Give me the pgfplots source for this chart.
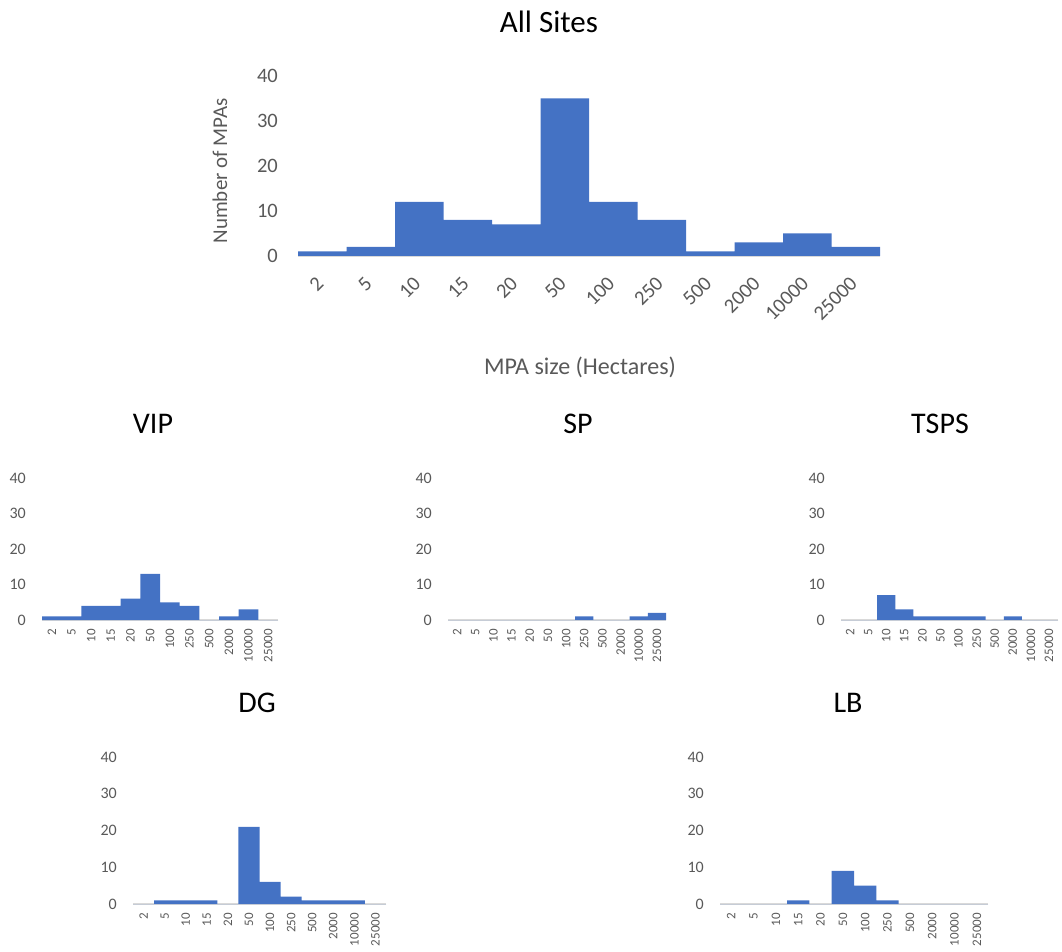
\documentclass[border=0pt]{standalone}
\usepackage{pgfplots}
\pgfplotsset{compat=1.18}
\usepackage{fontspec}
\setmainfont{Carlito}
\definecolor{barblue}{HTML}{4472C4}
\definecolor{tickgray}{HTML}{595959}
\definecolor{axgray}{HTML}{D9D9D9}
\pgfplotsset{
  mpa/.style={
    scale only axis, anchor=south west,
    xmin=-0.5, xmax=11.5, ymin=0, ymax=40,
    ytick={0,10,20,30,40},
    xtick={0,...,11},
    xticklabels={2,5,10,15,20,50,100,250,500,2000,10000,25000},
    axis x line=bottom, axis y line=left,
    every outer x axis line/.append style={-, draw=axgray, line width=1.4pt},
    every outer y axis line/.append style={-, draw=none},
    major tick length=0pt,
    ybar, bar width=1, bar shift=0,
    clip=false, enlargelimits=false,
    tick label style={text=tickgray},
    /pgf/number format/assume math mode=true,
  },
  small/.style={
    mpa,
    yticklabel style={font=\fontsize{16}{16}\selectfont, inner sep=0pt, anchor=east, xshift=-16pt},
    xticklabel style={font=\fontsize{13}{13}\selectfont, inner sep=0pt, yshift=-9pt, rotate=90, anchor=east},
  },
  bars/.style={fill=barblue, draw=none},
}
\begin{document}
\begin{tikzpicture}
\useasboundingbox (0pt,0pt) rectangle (1062pt,951pt);
% ---------- All Sites ----------
\begin{axis}[mpa, at={(298pt,695pt)}, width=582pt, height=180pt,
  yticklabel style={font=\fontsize{20.5}{20.5}\selectfont, inner sep=0pt, anchor=east, xshift=-20pt},
  xticklabel style={font=\fontsize{20.5}{20.5}\selectfont, inner sep=0pt, yshift=-24pt, xshift=-2pt, rotate=45, anchor=east}]
\addplot[bars] coordinates {(0,1)(1,2)(2,12)(3,8)(4,7)(5,35)(6,12)(7,8)(8,1)(9,3)(10,5)(11,2)};
\end{axis}
\node[anchor=base, font=\fontsize{31}{31}\selectfont] at (549pt,918pt) {All Sites};
\node[rotate=90, text=tickgray, font=\fontsize{21}{21}\selectfont] at (220pt,780pt) {Number of MPAs};
\node[text=tickgray, font=\fontsize{24}{24}\selectfont] at (580pt,584pt) {MPA size (Hectares)};
% ---------- VIP ----------
\begin{axis}[small, at={(42pt,331pt)}, width=236pt, height=142pt]
\addplot[bars] coordinates {(0,1)(1,1)(2,4)(3,4)(4,6)(5,13)(6,5)(7,4)(8,0)(9,1)(10,3)(11,0)};
\end{axis}
\node[anchor=base, font=\fontsize{30}{30}\selectfont] at (153pt,517pt) {VIP};
% ---------- SP ----------
\begin{axis}[small, at={(448pt,331pt)}, width=218pt, height=142pt]
\addplot[bars] coordinates {(0,0)(1,0)(2,0)(3,0)(4,0)(5,0)(6,0)(7,1)(8,0)(9,0)(10,1)(11,2)};
\end{axis}
\node[anchor=base, font=\fontsize{30}{30}\selectfont] at (578pt,517pt) {SP};
% ---------- TSPS ----------
\begin{axis}[small, at={(841pt,331pt)}, width=217pt, height=142pt]
\addplot[bars] coordinates {(0,0)(1,0)(2,7)(3,3)(4,1)(5,1)(6,1)(7,1)(8,0)(9,1)(10,0)(11,0)};
\end{axis}
\node[anchor=base, font=\fontsize{30}{30}\selectfont] at (940pt,517pt) {TSPS};
% ---------- DG ----------
\begin{axis}[small, at={(133pt,47pt)}, width=253pt, height=147pt]
\addplot[bars] coordinates {(0,0)(1,1)(2,1)(3,1)(4,0)(5,21)(6,6)(7,2)(8,1)(9,1)(10,1)(11,0)};
\end{axis}
\node[anchor=base, font=\fontsize{30}{30}\selectfont] at (257pt,239pt) {DG};
% ---------- LB ----------
\begin{axis}[small, at={(720pt,47pt)}, width=268pt, height=147pt]
\addplot[bars] coordinates {(0,0)(1,0)(2,0)(3,1)(4,0)(5,9)(6,5)(7,1)(8,0)(9,0)(10,0)(11,0)};
\end{axis}
\node[anchor=base, font=\fontsize{30}{30}\selectfont] at (848pt,239pt) {LB};
\end{tikzpicture}
\end{document}
